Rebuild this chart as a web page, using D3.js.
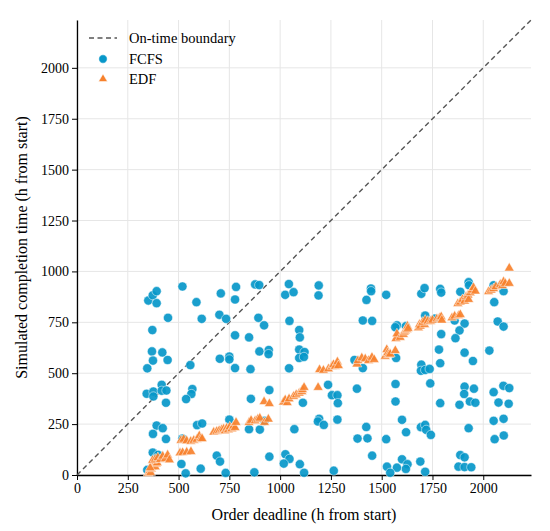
<!DOCTYPE html>
<html>
<head>
<meta charset="utf-8">
<script src="https://cdn.jsdelivr.net/npm/d3@7"></script>
<style>
  body { margin: 0; background: #fff; }
  svg, svg text { font-family: "Liberation Serif", "DejaVu Serif", serif; }
  .grid line { stroke: #e6e6e6; stroke-width: 1; }
  .axis path, .axis line { stroke: #000; }
</style>
</head>
<body>
<div id="chart-area"></div>
<script>
// FCFS orders: [deadline, completion]
const fcfs = [
  [351,857],[373,883],[392,903],[392,844],[519,926],[588,849],[708,892],[448,772],[614,767],[701,787],[734,767],[371,712],
  [369,607],[420,602],[374,562],[446,565],[346,524],[558,540],[703,571],[750,582],[750,568],
  [417,443],[343,399],[376,410],[376,386],[417,414],[440,415],[438,355],[568,422],[563,398],[537,373],
  [392,243],[422,230],[374,202],[438,177],[591,245],[616,253],[519,179],[750,272],
  [373,110],[399,99],[514,54],[535,8],[609,31],[688,95],[704,66],[732,10],[346,25],
  [783,924],[778,862],[877,936],[897,933],[1043,938],[1025,885],[1066,898],[1190,931],[1189,882],[1447,916],[1448,903],[1425,860],
  [893,772],[921,735],[1046,757],[1094,712],[1097,676],[1407,759],[1453,757],
  [778,686],[847,676],[778,525],[898,607],[944,614],[943,594],[854,520],[1044,524],[1094,616],[1120,604],[1094,575],[1117,580],[1366,565],[1407,525],
  [947,417],[856,374],[1112,355],[1236,443],[1255,392],[1282,392],[1284,353],[1378,424],
  [847,225],[900,223],[923,266],[1070,225],[1192,276],[1186,263],[1215,246],[1282,272],[1424,236],[1381,179],[1430,180],[1453,95],
  [947,90],[1026,102],[1046,79],[1018,56],[1097,53],[1118,11],[873,13],[1264,21],
  [1522,885],[1695,890],[1711,918],[1788,914],[1793,896],[1887,900],[1928,947],[1930,932],[2054,849],[2100,903],[2051,932],
  [1714,783],[1762,768],[1859,759],[1908,744],[1575,735],[1567,726],[1619,731],[1883,710],[2071,754],[2100,729],
  [1793,692],[1863,672],[1782,616],[1788,549],[1908,601],[1949,560],[2030,611],
  [1571,575],[1695,542],[1693,512],[1714,516],[1736,521],
  [1568,447],[1739,450],[1568,361],[1908,434],[1954,424],[1906,398],[1788,353],[1883,345],[1934,361],[1961,355],[2051,407],[2099,438],[2128,427],[2075,356],[2125,350],
  [1600,271],[1620,210],[1522,176],[1693,235],[1714,246],[1719,222],[1742,197],[1928,230],[2051,266],[2100,276],[2056,176],[2101,194],
  [1600,77],[1627,53],[1619,30],[1575,36],[1526,41],[1542,11],[1690,66],[1714,16],[1887,98],[1908,87],[1878,41],[1908,39],[1941,38]
];

// EDF orders: [deadline, completion]
const edf = [
  [350,8],[355,15],[358,22],[362,12],[366,30],[370,38],[374,45],[380,50],[385,40],[390,55],[395,60],[360,35],
  [372,72],[385,78],[398,85],[410,76],[422,92],[435,80],[446,98],[455,74],
  [507,108],[520,110],[540,112],[561,115],
  [512,170],[525,175],[540,168],[560,165],[575,170],[590,175],[602,192],[610,180],[616,178],
  [673,210],[688,214],[700,218],[712,222],[722,226],[729,217],[737,230],[745,222],[752,236],[762,227],[770,240],[778,233],[783,258],
  [847,258],[857,268],[877,266],[890,274],[900,279],[923,258],[942,274],
  [921,360],[947,350],
  [1016,358],[1025,369],[1035,355],[1044,374],[1066,386],[1079,394],[1094,402],[1107,410],[1110,419],[1118,430],
  [1187,430],
  [1194,517],[1213,514],[1238,521],[1255,534],[1263,542],[1271,534],[1282,555],[1287,537],
  [1378,545],[1383,562],[1402,575],[1419,570],[1435,562],[1452,578],[1463,567],
  [1517,583],[1525,616],[1530,600],[1534,591],[1542,594],[1567,611],
  [1570,670],[1575,693],[1591,676],[1607,690],[1611,702],[1616,708],[1624,714],[1627,731],[1630,720],[1681,723],[1686,739],[1690,731],[1711,739],
  [1701,750],[1714,760],[1727,755],[1740,755],[1750,760],[1772,767],[1785,772],[1793,777],[1796,760],
  [1846,772],[1859,780],[1878,783],[1887,788],
  [1875,842],[1887,849],[1898,862],[1908,854],[1915,875],[1925,883],[1928,862],[1936,895],[1944,908],[1952,920],[1961,903],
  [2026,900],[2039,908],[2051,915],[2062,925],[2084,936],[2094,930],[2100,949],[2108,941],[2128,941],
  [2128,1016]
];

const ticks = [0, 250, 500, 750, 1000, 1250, 1500, 1750, 2000];
const axisMax = 2235;
const seriesNames = ['On-time boundary', 'FCFS', 'EDF'];
const colors = { fcfs: '#0797c9', edf: '#f7812c' };
const serif = '"Liberation Serif", "DejaVu Serif", serif';

const chartSize = { width: 550, height: 531 };
const margin = { left: 77, right: 19, top: 20, bottom: 56 };
const width = chartSize.width - margin.left - margin.right;
const height = chartSize.height - margin.top - margin.bottom;

const svg = d3.select('#chart-area').append('svg')
  .attr('width', chartSize.width)
  .attr('height', chartSize.height);

const g = svg.append('g').attr('transform', `translate(${margin.left},${margin.top})`);

const x = d3.scaleLinear().domain([0, axisMax]).range([0, width]);
const y = d3.scaleLinear().domain([0, axisMax]).range([height, 0]);

// grid
g.append('g').attr('class', 'grid')
  .selectAll('line.v').data(ticks).enter().append('line')
  .attr('x1', d => x(d)).attr('x2', d => x(d)).attr('y1', 0).attr('y2', height);
g.append('g').attr('class', 'grid')
  .selectAll('line.h').data(ticks).enter().append('line')
  .attr('y1', d => y(d)).attr('y2', d => y(d)).attr('x1', 0).attr('x2', width);

// axes
const xAxis = d3.axisBottom(x).tickValues(ticks).tickFormat(d3.format('d'))
  .tickSize(5).tickPadding(3).tickSizeOuter(0);
const yAxis = d3.axisLeft(y).tickValues(ticks).tickFormat(d3.format('d'))
  .tickSize(5).tickPadding(3).tickSizeOuter(0);
g.append('g').attr('class', 'axis x-axis').attr('transform', `translate(0,${height})`).call(xAxis);
g.append('g').attr('class', 'axis y-axis').call(yAxis);
g.selectAll('.axis').attr('font-family', serif).attr('font-size', 14);
g.selectAll('.axis text').style('font-family', serif).style('font-size', '14px').attr('fill', '#000');
g.selectAll('.axis path').attr('stroke-width', 1.3);

// on-time boundary
g.append('line')
  .attr('x1', x(0)).attr('y1', y(0)).attr('x2', x(axisMax)).attr('y2', y(axisMax))
  .attr('stroke', '#555').attr('stroke-width', 1.4).attr('stroke-dasharray', '5,3.5');

// FCFS
g.selectAll('circle.fcfs').data(fcfs).enter().append('circle')
  .attr('class', 'fcfs')
  .attr('cx', d => x(d[0])).attr('cy', d => y(d[1])).attr('r', 4.6)
  .attr('fill', colors.fcfs).attr('fill-opacity', 0.92)
  .attr('stroke', '#fff').attr('stroke-width', 0.5);

// EDF
const tri = d3.symbol().type(d3.symbolTriangle).size(42);
g.selectAll('path.edf').data(edf).enter().append('path')
  .attr('class', 'edf')
  .attr('d', tri)
  .attr('transform', d => `translate(${x(d[0])},${y(d[1])})`)
  .attr('fill', colors.edf).attr('fill-opacity', 0.92)
  .attr('stroke', '#fff').attr('stroke-width', 0.5);

// axis labels
svg.append('text')
  .attr('x', margin.left + width / 2).attr('y', 520)
  .attr('text-anchor', 'middle').attr('font-size', 16)
  .text('Order deadline (h from start)');
svg.append('text')
  .attr('transform', 'rotate(-90)')
  .attr('x', -(margin.top + height / 2)).attr('y', 27)
  .attr('text-anchor', 'middle').attr('font-size', 16)
  .text('Simulated completion time (h from start)');

// legend
const lg = svg.append('g').attr('transform', 'translate(89,38)');
lg.append('line').attr('x1', 0).attr('x2', 28).attr('y1', 0).attr('y2', 0)
  .attr('stroke', '#555').attr('stroke-width', 1.4).attr('stroke-dasharray', '5,3.5');
lg.append('circle').attr('cx', 14).attr('cy', 21).attr('r', 4.2)
  .attr('fill', colors.fcfs).attr('stroke', '#fff').attr('stroke-width', 0.5);
lg.append('path').attr('d', d3.symbol().type(d3.symbolTriangle).size(34))
  .attr('transform', 'translate(14,41)')
  .attr('fill', colors.edf).attr('stroke', '#fff').attr('stroke-width', 0.5);
lg.selectAll('text').data(seriesNames).enter().append('text')
  .attr('x', 40).attr('y', (d, i) => i * 20.5 + 5)
  .attr('font-size', 14.5)
  .text(d => d);
</script>
</body>
</html>
